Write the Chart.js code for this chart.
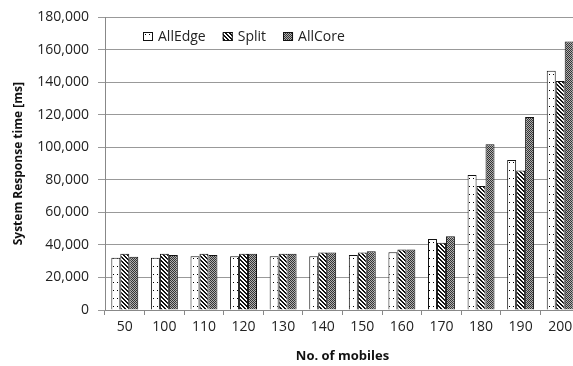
<!doctype html>
<html lang="en">
  <head>
    <meta charset="UTF-8" />
    <title>System Response time</title>
    <script src="https://cdn.jsdelivr.net/npm/chart.js"></script>
    <style>
      html, body {
        margin: 0;
        padding: 0;
        overflow: hidden;
        background: #ffffff;
      }
      #chart {
        display: block;
      }
    </style>
  </head>
  <body>
    <canvas id="chart" width="590" height="366"></canvas>
    <script>
      const categories = ['50', '100', '110', '120', '130', '140', '150', '160', '170', '180', '190', '200'];
      const allEdge = [32200, 32200, 33000, 33000, 33000, 33000, 33800, 35600, 43700, 83000, 92300, 147200];
      const split = [34600, 34600, 34600, 34600, 34600, 35300, 35300, 37200, 41300, 76300, 85800, 140900];
      const allCore = [32800, 33800, 33800, 34600, 34600, 35300, 36100, 37200, 45300, 101900, 118800, 165200];

      function makePattern(w, h, draw) {
        const c = document.createElement('canvas');
        c.width = w;
        c.height = h;
        const g = c.getContext('2d');
        draw(g);
        return g.createPattern(c, 'repeat');
      }

      const dots = makePattern(4, 8, (g) => {
        g.fillStyle = '#fff';
        g.fillRect(0, 0, 4, 8);
        g.fillStyle = '#000';
        g.fillRect(1, 2, 1, 1);
      });
      const stripes = makePattern(4, 4, (g) => {
        g.fillStyle = '#fff';
        g.fillRect(0, 0, 4, 4);
        g.fillStyle = '#111';
        for (let i = 0; i < 4; i++) {
          g.fillRect(i, i, 1, 1);
          g.fillRect((i + 1) % 4, i, 1, 1);
        }
      });
      const checker = makePattern(2, 2, (g) => {
        g.fillStyle = '#b0b0b0';
        g.fillRect(0, 0, 2, 2);
        g.fillStyle = '#333';
        g.fillRect(0, 0, 1, 1);
        g.fillRect(1, 1, 1, 1);
      });

      const font = 'Open Sans';

      // legend sits inside the plot, in one row near the top
      const innerLegend = {
        id: 'innerLegend',
        afterDraw(chart) {
          const ctx = chart.ctx;
          let x = 143;
          const y = 37;
          ctx.save();
          ctx.font = '14px "' + font + '"';
          ctx.textBaseline = 'middle';
          chart.data.datasets.forEach((ds) => {
            ctx.fillStyle = ds.backgroundColor;
            ctx.fillRect(x, y - 5, 10, 9);
            ctx.strokeStyle = '#111';
            ctx.lineWidth = 1;
            ctx.strokeRect(x + 0.5, y - 4.5, 9, 8);
            ctx.fillStyle = '#222';
            ctx.fillText(ds.label, x + 15, y);
            x += 15 + ctx.measureText(ds.label).width + 17;
          });
          ctx.restore();
        },
      };

      new Chart(document.getElementById('chart'), {
        type: 'bar',
        data: {
          labels: categories,
          datasets: [
            { label: 'AllEdge', data: allEdge, backgroundColor: dots },
            { label: 'Split', data: split, backgroundColor: stripes },
            { label: 'AllCore', data: allCore, backgroundColor: checker },
          ].map((d) => ({
            ...d,
            borderColor: '#111',
            borderWidth: 1,
            categoryPercentage: 0.68,
            barPercentage: 1.0,
          })),
        },
        options: {
          responsive: false,
          animation: false,
          layout: { padding: { top: 15, right: 10, left: 0, bottom: 0 } },
          plugins: {
            tooltip: { enabled: false },
            legend: { display: false },
          },
          scales: {
            x: {
              grid: {
                drawOnChartArea: false,
                drawTicks: true,
                tickLength: 5,
                color: '#888',
              },
              border: { color: '#888' },
              ticks: {
                color: '#222',
                padding: 4,
                maxRotation: 0,
                autoSkip: false,
                font: { family: font, size: 14 },
              },
              title: {
                display: true,
                text: 'No. of mobiles',
                color: '#111',
                padding: { top: 5, bottom: 2 },
                font: { family: font, size: 13, weight: 'bold' },
              },
              afterFit(scale) {
                scale.height = 56;
              },
            },
            y: {
              min: 0,
              max: 180000,
              grid: {
                color: '#999',
                tickLength: 7,
              },
              border: { color: '#888' },
              ticks: {
                stepSize: 20000,
                color: '#222',
                padding: 9,
                font: { family: font, size: 14 },
                callback: (v) => v.toLocaleString('en-US'),
              },
              title: {
                display: true,
                text: 'System Response time [ms]',
                color: '#111',
                padding: { top: 11, bottom: 0 },
                font: { family: font, size: 12, weight: 'bold' },
              },
              afterFit(scale) {
                scale.width = 105;
              },
            },
          },
        },
        plugins: [innerLegend],
      });
    </script>
  </body>
</html>
